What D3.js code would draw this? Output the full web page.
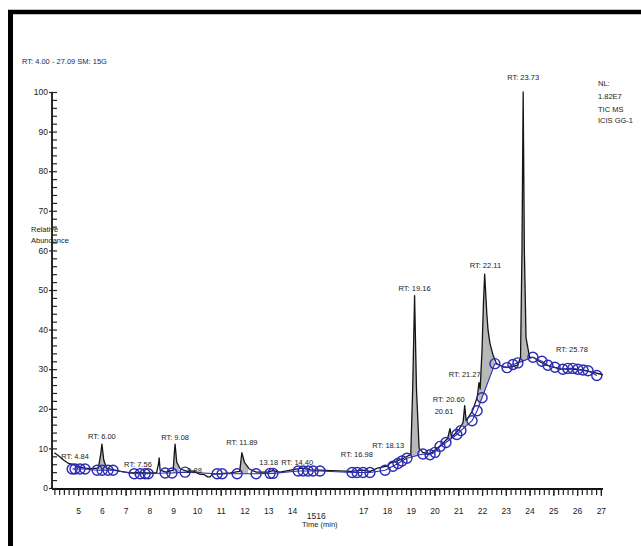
<!DOCTYPE html>
<html><head><meta charset="utf-8">
<script src="https://cdn.jsdelivr.net/npm/d3@7"></script>
<style>
html,body{margin:0;padding:0;background:#fff;}
svg{display:block;}
text{font-family:"Liberation Sans Narrow","Arial Narrow","Liberation Sans",Arial,sans-serif;}
</style></head><body>
<svg id="c" width="641" height="546"></svg>
<script>
// ---- data ----
const traceTime = [4.00,4.20,4.40,4.60,4.84,5.00,5.30,5.60,5.85,5.95,6.00,6.08,6.20,6.50,6.80,7.20,7.56,7.90,8.30,8.38,8.41,8.45,8.70,9.00,9.05,9.08,9.15,9.30,9.60,9.88,10.10,10.30,10.45,10.55,10.65,11.00,11.40,11.80,11.89,12.00,12.20,12.50,13.00,13.18,13.50,14.00,14.40,14.80,15.20,15.60,16.00,16.50,16.98,17.30,17.60,18.00,18.13,18.40,18.70,19.00,19.08,19.16,19.24,19.35,19.50,19.80,20.00,20.30,20.55,20.65,20.72,21.00,21.20,21.27,21.33,21.60,21.80,21.87,21.92,22.00,22.06,22.11,22.20,22.25,22.33,22.46,22.60,22.90,23.20,23.50,23.62,23.68,23.73,23.78,23.85,24.00,24.15,24.40,24.70,25.00,25.30,25.78,26.20,26.60,27.09];
const traceValue = [8.9,8.0,7.0,6.2,5.8,5.3,5.0,4.9,5.0,8.5,11.1,7.0,5.0,4.6,4.2,3.8,3.9,3.8,3.8,6.0,7.6,4.5,4.0,4.5,9.0,11.1,6.5,4.8,4.2,4.3,3.5,3.4,2.8,2.8,3.5,3.6,3.8,4.2,8.9,6.5,4.8,4.0,4.0,4.4,4.0,4.6,5.0,4.6,4.5,4.4,4.3,4.2,4.5,4.2,5.0,5.5,6.3,6.8,7.5,8.5,25,48.6,25,10,9.0,8.6,9.5,11.0,12.5,15.0,12.8,14.5,16.5,20.8,17.0,19.5,23,26.6,25,35,47,54,44,40,36.6,33.6,31.5,30.5,30.5,31,33,60,100,60,38,33,33,32,31,30.5,30,30,29.8,29.3,28.6];

const baseTime = [4.75,4.87,5.08,5.29,5.80,6.01,6.26,6.47,7.36,7.61,7.82,7.95,8.66,8.95,9.50,10.85,11.06,11.69,12.49,13.08,13.20,14.26,14.47,14.68,14.89,15.18,16.53,16.74,16.99,17.28,17.92,18.25,18.46,18.63,18.84,19.51,19.81,20.02,20.23,20.48,20.94,21.11,21.58,21.79,22.00,22.54,23.05,23.30,23.51,24.14,24.52,24.77,25.07,25.40,25.61,25.82,26.03,26.25,26.46,26.83];
const baseValue = [4.8,4.8,4.8,4.8,4.5,4.5,4.5,4.5,3.6,3.6,3.6,3.6,3.8,3.8,4.0,3.6,3.6,3.6,3.6,3.7,3.7,4.3,4.3,4.3,4.3,4.3,3.9,3.9,3.9,3.9,4.5,5.5,6.2,6.8,7.5,8.6,8.4,9.0,10.5,11.5,13.5,14.5,17,19.5,22.8,31.4,30.4,31.2,31.6,33,32,31,30.5,30,30.2,30.2,30,29.8,29.6,28.4];

const peakStart = [5.88,8.98,11.80,19.00,20.55,21.20,21.85,23.58];
const peakEnd   = [6.15,9.25,12.15,19.38,20.75,21.36,22.52,23.98];

const labelText = ["RT: 4.84","RT: 6.00","RT: 7.56","RT: 9.08","9.88","RT: 11.89","13.18","RT: 14.40","RT: 16.98","RT: 18.13","RT: 19.16","RT: 20.60","20.61","RT: 21.27","RT: 22.11","RT: 23.73","RT: 25.78"];
const labelTime = [4.87,6.00,7.52,9.08,9.90,11.89,13.02,14.22,16.73,18.05,19.16,20.60,20.40,21.27,22.14,23.73,25.78];
const labelValue = [7.3,12.4,5.3,12.1,3.8,10.9,5.8,5.8,7.8,10.1,49.7,21.7,18.7,28.0,55.6,103,34.3];

const xMajor = [5,6,7,8,9,10,11,12,13,14,15,17,18,19,20,21,22,23,24,25,26,27];
const xMajorLabels = ["5","6","7","8","9","10","11","12","13","14","1516","17","18","19","20","21","22","23","24","25","26","27"];
const yMajor = [0,10,20,30,40,50,60,70,80,90,100];
const headerText = "RT: 4.00 - 27.09 SM: 15G";
const nlText = ["NL:","1.82E7","TIC MS","ICIS GG-1"];

// ---- chart ----
const svg = d3.select("#c");
const x = d3.scaleLinear().domain([3.9, 27.09]).range([52, 603]);
const y = d3.scaleLinear().domain([0, 100]).range([488, 92]);

// border (top & left)
svg.append("line").attr("x1",8).attr("x2",641).attr("y1",12).attr("y2",12).attr("stroke","#000").attr("stroke-width",4.5);
svg.append("line").attr("x1",10.5).attr("x2",10.5).attr("y1",10).attr("y2",546).attr("stroke","#000").attr("stroke-width",5);

// header
svg.append("text").attr("x",22).attr("y",64).attr("font-size",7.5).attr("fill","#1c2660").text(headerText);
svg.selectAll("text.nl").data(nlText).join("text").attr("class","nl")
  .attr("x",598).attr("y",(d,i)=>[86,99,112,123][i]).attr("font-size",7.5).attr("fill","#222").text(d=>d);

// baseline interpolation
const baseInterp = t => {
  let i = d3.bisectRight(baseTime, t);
  if (i <= 0) return baseValue[0];
  if (i >= baseTime.length) return baseValue[baseValue.length-1];
  const t0 = baseTime[i-1], t1 = baseTime[i];
  return baseValue[i-1] + (baseValue[i]-baseValue[i-1])*(t-t0)/(t1-t0);
};
const traceInterp = t => {
  let i = d3.bisectRight(traceTime, t);
  if (i <= 0) return traceValue[0];
  if (i >= traceTime.length) return traceValue[traceValue.length-1];
  const t0 = traceTime[i-1], t1 = traceTime[i];
  return traceValue[i-1] + (traceValue[i]-traceValue[i-1])*(t-t0)/(t1-t0);
};

// peak fills
const area = d3.area().x(d=>x(d.t)).y0(d=>y(d.b)).y1(d=>y(d.v));
peakStart.forEach((s, k) => {
  const e = peakEnd[k];
  const ts = [s, ...traceTime.filter(t => t > s && t < e), e];
  const pts = ts.map(t => ({t, v: Math.max(traceInterp(t), baseInterp(t)), b: baseInterp(t)}));
  svg.append("path").attr("d", area(pts)).attr("fill","#b8b8b8").attr("stroke","none");
});

// trace
const trace = traceTime.map((t,i)=>({t, v: traceValue[i]}));
svg.append("path").datum(trace)
  .attr("d", d3.line().x(d=>x(d.t)).y(d=>y(d.v)))
  .attr("fill","none").attr("stroke","#151515").attr("stroke-width",1.3).attr("stroke-linejoin","round");

// baseline line + markers
const base = baseTime.map((t,i)=>({t, v: baseValue[i]}));
svg.append("path").datum(base)
  .attr("d", d3.line().x(d=>x(d.t)).y(d=>y(d.v)))
  .attr("fill","none").attr("stroke","#2f2fa8").attr("stroke-width",1.1);
svg.selectAll("circle.m").data(base).join("circle").attr("class","m")
  .attr("cx",d=>x(d.t)).attr("cy",d=>y(d.v)).attr("r",5)
  .attr("fill","none").attr("stroke","#2a2ab4").attr("stroke-width",1.4);

// axes
const xMinor = d3.range(0, 116).map(i => +(4.0 + i*0.2).toFixed(2)).filter(t => t <= 27.09);
const gxMinor = svg.append("g").attr("transform","translate(0,489)")
  .call(d3.axisBottom(x).tickValues(xMinor).tickSize(6).tickFormat(""));
gxMinor.select(".domain").attr("stroke","#111").attr("stroke-width",1.8).attr("d","M52,0H603");
gxMinor.selectAll(".tick line").attr("stroke","#222").attr("stroke-width",1.2);

const gx = svg.append("g").attr("transform","translate(0,489)")
  .call(d3.axisBottom(x).tickValues(xMajor).tickSize(7).tickPadding(12).tickFormat((d,i)=>xMajorLabels[i]));
gx.select(".domain").remove();
gx.selectAll(".tick line").attr("stroke","#222").attr("stroke-width",1.2);
gx.selectAll(".tick text").attr("font-size",8.5).attr("fill","#222")
  .attr("font-family",'"Liberation Sans Narrow","Liberation Sans",Arial,sans-serif')
  .attr("dy",(d,i)=>xMajorLabels[i]==="1516" ? "1.25em" : "0.71em");

svg.append("text").attr("x",302).attr("y",527).attr("font-size",7.5).attr("fill","#222").text("Time (min)");

const yMinor = d3.range(0, 51).map(i => i*2);
const gyMinor = svg.append("g").attr("transform","translate(52,0)")
  .call(d3.axisRight(y).tickValues(yMinor).tickSize(5).tickFormat(""));
gyMinor.select(".domain").attr("stroke","#111").attr("stroke-width",1.8).attr("d","M0,488V92");
gyMinor.selectAll(".tick line").attr("stroke","#222").attr("stroke-width",1.2);

const gy = svg.append("g").attr("transform","translate(52,0)")
  .call(d3.axisLeft(y).tickValues(yMajor).tickSize(3).tickPadding(1));
gy.select(".domain").remove();
gy.selectAll(".tick line").attr("stroke","#222").attr("stroke-width",1.2);
gy.selectAll(".tick text").attr("font-size",8.5).attr("fill","#222")
  .attr("font-family",'"Liberation Sans Narrow","Liberation Sans",Arial,sans-serif');

svg.append("text").attr("x",31).attr("y",232).attr("font-size",7.5).attr("fill","#222").text("Relative");
svg.append("text").attr("x",31).attr("y",243).attr("font-size",7.5).attr("fill","#222").text("Abundance");

// peak labels
svg.selectAll("text.pl").data(labelText).join("text").attr("class","pl")
  .attr("x",(d,i)=>x(labelTime[i])).attr("y",(d,i)=>y(labelValue[i]))
  .attr("text-anchor","middle").attr("font-size",7.5).attr("fill","#222").text(d=>d);
</script>
</body></html>
